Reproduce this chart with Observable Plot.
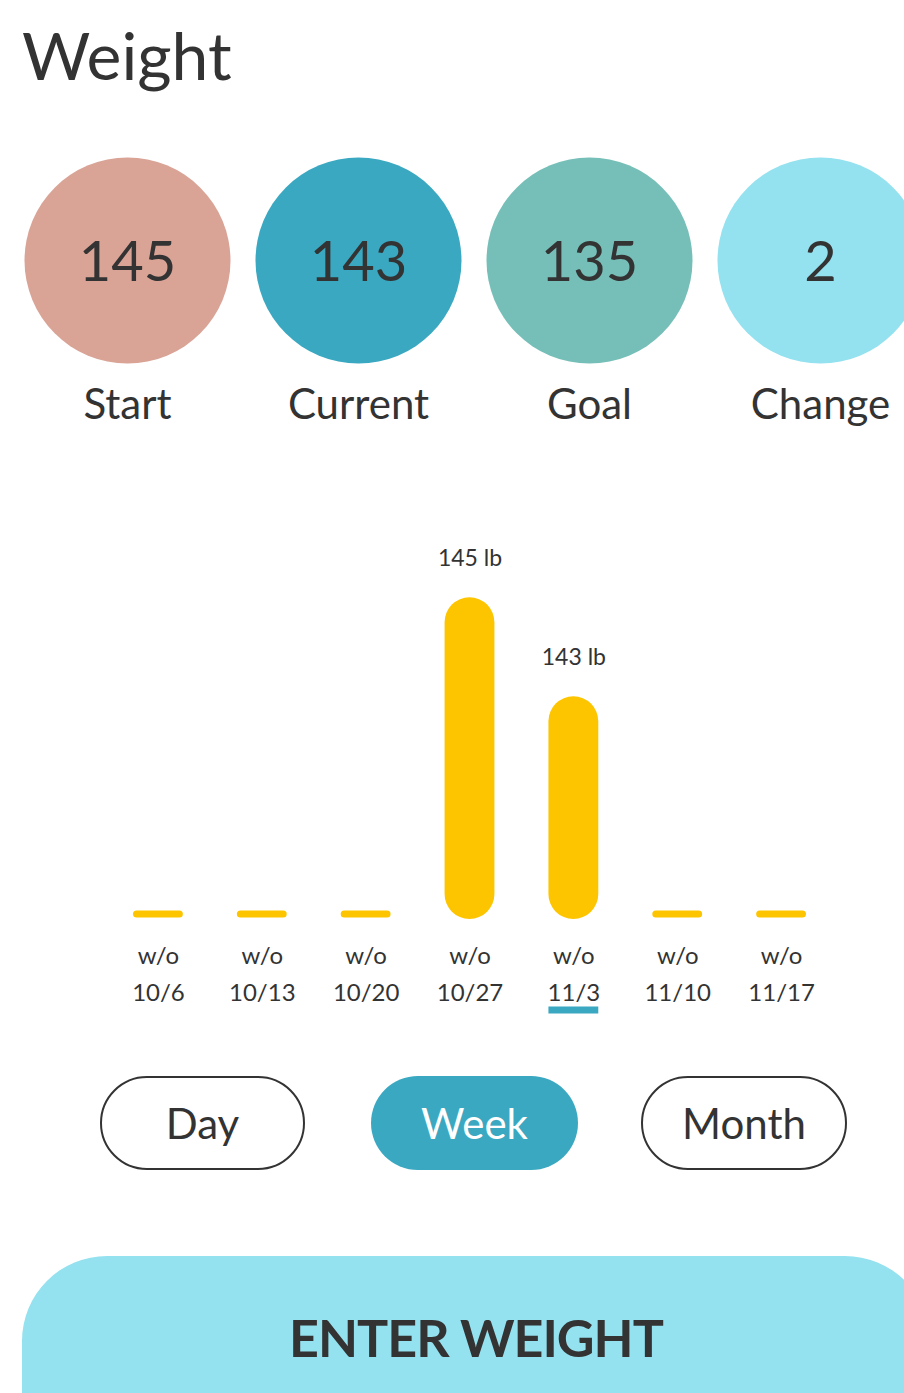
<!DOCTYPE html>
<html><head><meta charset="utf-8">
<script src="https://cdn.jsdelivr.net/npm/d3@7"></script>
<script src="https://cdn.jsdelivr.net/npm/@observablehq/plot@0.6"></script>
<style>
html,body{margin:0;padding:0;background:#fff;overflow:hidden;width:904px;height:1393px;}
body{position:relative;font-family:Lato,"Noto Sans",sans-serif;color:#333;}
#title{position:absolute;left:22px;top:22px;font-size:66px;line-height:1;margin:0;font-weight:400;}
#stats{position:absolute;left:0;top:100px;}
#bars{position:absolute;left:0;top:499px;}
.btn{position:absolute;top:1076px;height:94px;border-radius:47px;box-sizing:border-box;display:flex;align-items:center;justify-content:center;font-size:42px;}
.out{border:2px solid #333;background:#fff;color:#333;}
.on{background:#3aa8c1;color:#fff;}
#enter{position:absolute;left:22px;top:1256px;width:908px;height:260px;border-radius:85px;background:#94e1ef;}
#enterTxt{position:absolute;left:22px;top:1256px;width:908px;height:162px;display:flex;align-items:center;justify-content:center;font-size:52px;font-weight:700;color:#333;letter-spacing:-1px;}
</style></head>
<body>
<h1 id="title">Weight</h1>
<div id="stats"></div>
<div id="bars"></div>
<div id="buttons"></div>
<div id="enter"></div>
<div id="enterTxt">ENTER WEIGHT</div>
<script>
// Summary stats
const statLabels = ["Start", "Current", "Goal", "Change"];
const statValues = [145, 143, 135, 2];
const statColors = ["#d9a396", "#3aa8c1", "#76bfb8", "#94e1ef"];

// Weekly weights
const weeks = ["10/6", "10/13", "10/20", "10/27", "11/3", "11/10", "11/17"];
const weights = [null, null, null, 145, 143, null, null];
const selectedWeek = "11/3";
const yDomain = [138.5, 146.5];

// Period toggles
const periods = ["Day", "Week", "Month"];
const activePeriod = "Week";

const ink = "#333";
const yellow = "#fdc500";
const teal = "#3aa8c1";

const stats = statLabels.map((label, i) => ({label, value: statValues[i]}));
const statsPlot = Plot.plot({
  width: 904, height: 320,
  marginLeft: 127, marginRight: 84, marginTop: 0, marginBottom: 0,
  style: "font-family: Lato, 'Noto Sans', sans-serif; background: none; overflow: visible;",
  x: {type: "point", domain: statLabels, padding: 0, round: false, axis: null},
  color: {domain: statLabels, range: statColors},
  marks: [
    Plot.dot(stats, {x: "label", r: 103, fill: "label"}),
    Plot.text(stats, {x: "label", text: d => String(d.value), fontSize: 56, fill: ink, dy: 3}),
    Plot.text(stats, {x: "label", text: "label", fontSize: 42, fill: ink, dy: 145})
  ]
});
document.getElementById("stats").appendChild(statsPlot);

const rows = weeks.map((week, i) => ({week, weight: weights[i]}));
const present = rows.filter(d => d.weight != null);
const missing = rows.filter(d => d.weight == null);

const barPlot = Plot.plot({
  width: 904, height: 540,
  marginLeft: 79, marginRight: 44, marginTop: 24, marginBottom: 120,
  style: "font-family: Lato, 'Noto Sans', sans-serif; background: none; overflow: visible; color: #333;",
  x: {type: "band", domain: weeks, padding: 0.52, round: false, axis: null},
  y: {domain: yDomain, axis: null},
  marks: [
    Plot.tickY(missing, {x: "week", y: yDomain[0], stroke: yellow, strokeWidth: 7, strokeLinecap: "round", insetLeft: 3.5, insetRight: 3.5, dy: -5.5}),
    Plot.barY(present, {x: "week", y1: yDomain[0], y2: "weight", fill: yellow, rx: 25}),
    Plot.text(present, {x: "week", y: "weight", text: d => `${d.weight} lb`, dy: -39, fontSize: 23, fill: ink}),
    Plot.tickY(rows.filter(d => d.week === selectedWeek), {x: "week", y: yDomain[0], stroke: teal, strokeWidth: 7, dy: 90.5}),
    Plot.axisX({tickSize: 0, tickPadding: 18, fontSize: 24, lineHeight: 1.55, fill: ink, label: null, tickFormat: d => `w/o\n${d}`})
  ]
});
document.getElementById("bars").appendChild(barPlot);

const btnLefts = [100, 371, 641];
const btnWidths = [205, 207, 206];
const bc = document.getElementById("buttons");
periods.forEach((p, i) => {
  const b = document.createElement("div");
  b.className = "btn " + (p === activePeriod ? "on" : "out");
  b.style.left = btnLefts[i] + "px";
  b.style.width = btnWidths[i] + "px";
  b.textContent = p;
  bc.appendChild(b);
});
</script>
</body></html>
